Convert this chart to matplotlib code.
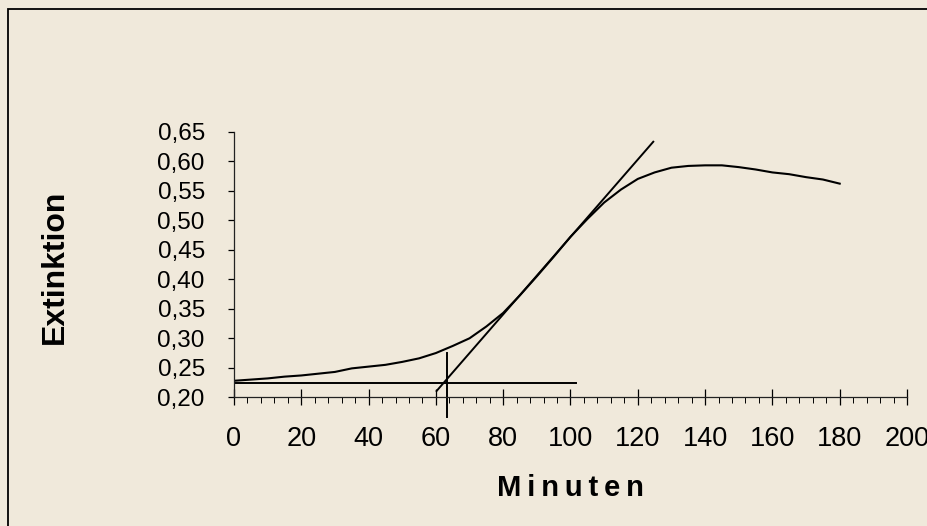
import matplotlib.pyplot as plt
import matplotlib.patches as patches
from matplotlib.ticker import FuncFormatter, MultipleLocator

# Messwerte (Minuten / Extinktion)
minuten = [0, 5, 10, 15, 20, 25, 30, 35, 40, 45, 50, 55, 60, 65, 70, 75, 80, 85, 90,
           95, 100, 105, 110, 115, 120, 125, 130, 135, 140, 145, 150, 155, 160, 165,
           170, 175, 180]
extinktion = [0.228, 0.230, 0.232, 0.235, 0.237, 0.240, 0.243, 0.249, 0.252, 0.255,
              0.260, 0.266, 0.275, 0.287, 0.300, 0.320, 0.343, 0.373, 0.405, 0.438,
              0.472, 0.502, 0.530, 0.552, 0.570, 0.581, 0.589, 0.592, 0.593, 0.593,
              0.590, 0.586, 0.581, 0.578, 0.573, 0.569, 0.562]

# Hilfslinien: Wendetangente, Grundlinie, Markierung
tangente_x = [60.2, 124.6]
tangente_y = [0.2107, 0.633]
grundlinie_x = [0, 101.5]
grundlinie_y = [0.225, 0.225]
marke_x = [63.2, 63.2]
marke_y = [0.167, 0.2745]

bg = '#F0E9DB'
plt.rcParams['font.family'] = ['Liberation Sans', 'DejaVu Sans']

fig = plt.figure(figsize=(9.28, 5.26), dpi=100, facecolor=bg)
ax = fig.add_axes([234/928, 1 - 397.3/526, (907 - 234)/928, (397.3 - 131.7)/526])
ax.set_facecolor(bg)

ax.plot(minuten, extinktion, color='black', lw=1.5)
ax.plot(tangente_x, tangente_y, color='black', lw=1.4)
ax.plot(grundlinie_x, grundlinie_y, color='black', lw=1.4)
ax.plot(marke_x, marke_y, color='black', lw=1.4, clip_on=False)

ax.set_xlim(0, 200)
ax.set_ylim(0.20, 0.65)
ax.spines['top'].set_visible(False)
ax.spines['right'].set_visible(False)
for s in ('left', 'bottom'):
    ax.spines[s].set_linewidth(0.9)
    ax.spines[s].set_color('#222222')

ax.xaxis.set_major_locator(MultipleLocator(20))
ax.xaxis.set_minor_locator(MultipleLocator(4))
ax.yaxis.set_major_locator(MultipleLocator(0.05))
ax.yaxis.set_major_formatter(FuncFormatter(lambda v, p: f'{v:.2f}'.replace('.', ',')))

ax.tick_params(axis='x', which='major', direction='inout', length=12, width=0.9,
               labelsize=19.5, pad=15)
ax.tick_params(axis='x', which='minor', direction='out', length=4.5, width=0.7)
ax.tick_params(axis='y', which='major', direction='out', length=4, width=0.9,
               labelsize=17.5, pad=17)

fig.text(570/928, 1 - 488/526, 'M\u2009i\u2009n\u2009u\u2009t\u2009e\u2009n', ha='center',
         va='center', fontsize=21, fontweight='bold')
fig.text(55/928, 1 - 267/526, 'Extinktion', ha='center', va='center', rotation=90,
         fontsize=23, fontweight='bold')

# Rahmen des Diagrammbereichs
fig.patches.append(patches.Rectangle((8/928, -0.1), 2, 1 - 9/526 + 0.1,
                                     transform=fig.transFigure, fill=False,
                                     edgecolor='black', lw=1.3))

fig.savefig('out.png', dpi=100, facecolor=bg)
